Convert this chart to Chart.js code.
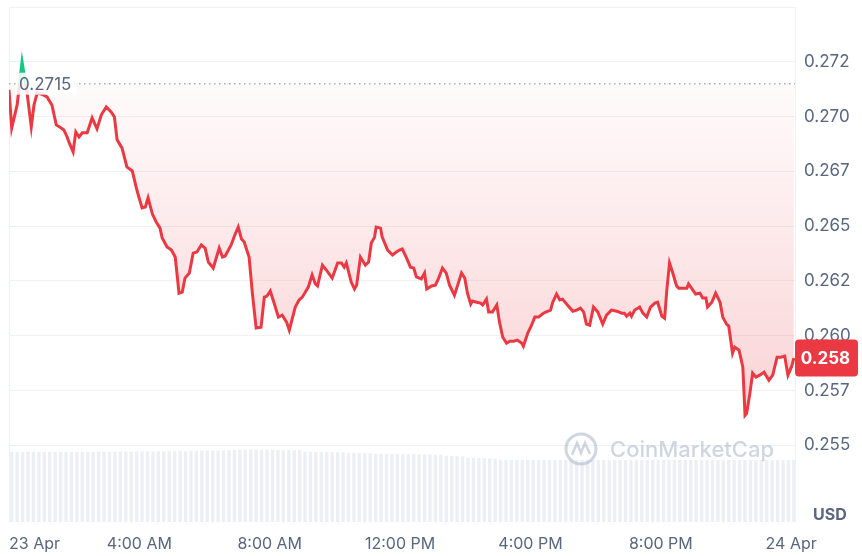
<!DOCTYPE html>
<html>
<head>
<meta charset="utf-8">
<script src="https://cdn.jsdelivr.net/npm/chart.js@4.4.1/dist/chart.umd.min.js"></script>
<style>
  html, body { margin: 0; padding: 0; background: #fff; }
  #wrap { width: 862px; height: 556px; position: relative; }
</style>
</head>
<body>
<div id="wrap"><canvas id="priceChart"></canvas></div>
<script>
// minutes since 00:00, 23 Apr
const priceMinutes = [0,5,15,24,33,41,46,52,63,70,79,87,96,101,107,111,118,123,129,135,144,153,162,170,179,188,194,199,208,217,227,234,238,245,251,256,264,271,278,282,291,299,306,313,319,324,332,339,346,354,361,367,376,387,393,398,409,415,422,428,433,442,448,455,464,470,475,481,488,496,503,511,516,527,534,540,551,558,564,568,577,584,595,605,612,617,621,630,636,640,647,656,662,667,673,676,684,687,697,706,713,719,724,732,739,745,750,759,765,769,778,785,791,798,805,811,820,826,833,839,844,850,853,861,868,872,879,883,890,898,903,909,916,922,929,936,944,947,955,962,968,975,982,988,997,1001,1008,1014,1019,1028,1038,1045,1052,1058,1063,1069,1076,1084,1093,1100,1109,1119,1128,1133,1137,1143,1146,1152,1161,1167,1174,1181,1189,1194,1202,1207,1211,1216,1222,1229,1233,1240,1248,1251,1259,1264,1272,1277,1283,1286,1294,1301,1309,1314,1321,1325,1332,1336,1344,1351,1355,1358,1364,1369,1375,1382,1390,1399,1406,1414,1421,1428,1434,1441,1445];
const prices = [0.27122,0.26948,0.27053,0.27250,0.27113,0.26953,0.27053,0.27108,0.27099,0.27090,0.27053,0.26962,0.26948,0.26939,0.26907,0.26880,0.26839,0.26930,0.26907,0.26926,0.26926,0.26994,0.26944,0.27008,0.27044,0.27021,0.26999,0.26894,0.26857,0.26770,0.26752,0.26679,0.26642,0.26583,0.26587,0.26629,0.26555,0.26519,0.26491,0.26446,0.26405,0.26391,0.26359,0.26194,0.26199,0.26263,0.26286,0.26377,0.26382,0.26414,0.26400,0.26336,0.26309,0.26400,0.26359,0.26364,0.26414,0.26455,0.26496,0.26441,0.26428,0.26359,0.26194,0.26035,0.26039,0.26176,0.26181,0.26204,0.26149,0.26085,0.26094,0.26062,0.26025,0.26131,0.26163,0.26176,0.26222,0.26277,0.26236,0.26227,0.26322,0.26300,0.26263,0.26332,0.26332,0.26313,0.26332,0.26245,0.26213,0.26231,0.26359,0.26322,0.26336,0.26423,0.26450,0.26496,0.26491,0.26450,0.26391,0.26368,0.26382,0.26391,0.26396,0.26354,0.26313,0.26309,0.26268,0.26259,0.26286,0.26213,0.26227,0.26231,0.26263,0.26309,0.26286,0.26231,0.26185,0.26231,0.26286,0.26263,0.26194,0.26144,0.26158,0.26153,0.26149,0.26140,0.26167,0.26108,0.26108,0.26140,0.26062,0.25993,0.25966,0.25975,0.25975,0.25980,0.25966,0.25952,0.26012,0.26048,0.26085,0.26085,0.26099,0.26108,0.26117,0.26153,0.26190,0.26163,0.26167,0.26140,0.26112,0.26117,0.26126,0.26108,0.26053,0.26048,0.26131,0.26108,0.26053,0.26094,0.26117,0.26112,0.26103,0.26103,0.26089,0.26103,0.26089,0.26117,0.26131,0.26103,0.26085,0.26131,0.26149,0.26153,0.26089,0.26080,0.26208,0.26332,0.26286,0.26227,0.26217,0.26217,0.26217,0.26236,0.26208,0.26190,0.26194,0.26172,0.26172,0.26131,0.26153,0.26194,0.26153,0.26085,0.26053,0.26044,0.25920,0.25948,0.25934,0.25856,0.25637,0.25646,0.25738,0.25829,0.25811,0.25820,0.25834,0.25797,0.25820,0.25902,0.25902,0.25907,0.25820,0.25861,0.25898];

// 24h volume, 10 minute buckets (millions)
const volumes = [
  70.0,70.2,70.1,70.3,70.2,70.0,70.1,70.2,70.3,70.2,70.1,70.0,70.2,70.3,70.1,70.2,70.4,70.3,70.2,70.3,
  70.5,70.4,70.3,70.5,70.6,70.5,70.4,70.6,70.7,
  71.0,71.1,71.2,71.0,71.3,71.2,71.4,71.3,71.5,71.4,71.6,
  72.0,72.1,72.3,72.2,72.4,72.3,72.2,72.4,72.3,72.1,72.2,72.0,71.9,71.8,
  70.4,70.3,70.2,70.1,70.0,69.9,69.8,69.7,
  69.2,69.1,69.0,68.9,68.8,
  68.3,68.2,68.1,68.0,68.1,67.9,67.8,67.9,67.7,67.6,67.5,67.4,67.3,
  66.2,66.0,65.8,65.6,
  64.4,64.2,64.0,63.8,63.5,63.2,
  62.2,62.1,62.0,62.1,61.9,62.0,62.1,62.0,61.9,61.8,
  62.0,62.1,62.0,61.9,62.0,62.1,62.2,62.1,62.0,61.9,
  61.8,61.9,62.0,62.0,61.9,62.0,62.1,62.0,62.1,62.2,
  62.1,62.0,62.1,62.2,62.1,62.0,61.9,62.0,62.1,62.0,
  61.9,61.8,61.9,62.0,62.1,62.0,61.9,62.0,62.1,62.2,
  62.1,62.0,61.9,62.0,62.1
];
const volumeBucket = 10;

const basePrice = 0.2715;
const xTickMinutes = [0, 240, 480, 720, 960, 1200, 1440];
const xTickLabels = ['23 Apr', '4:00 AM', '8:00 AM', '12:00 PM', '4:00 PM', '8:00 PM', '24 Apr'];
const yTicks = [0.255, 0.2575, 0.26, 0.2625, 0.265, 0.2675, 0.27, 0.2725, 0.275];
const yTickLabels = ['0.255', '0.257', '0.260', '0.262', '0.265', '0.267', '0.270', '0.272', ''];
const xMax = 1447;

const red = '#ea3943';
const green = '#16c784';
const gridColor = '#eff2f5';
const textColor = '#58667e';
const watermarkColor = 'rgba(168,180,201,0.55)';

Chart.defaults.font.family = 'Inter, "Noto Sans", sans-serif';

const n = Math.min(priceMinutes.length, prices.length);
const pricePoints = [];
for (let i = 0; i < n; i++) {
  pricePoints.push({ x: priceMinutes[i], y: prices[i] });
}
const volumePoints = volumes.map((v, i) => ({ x: i * volumeBucket + volumeBucket / 2, y: v }));
const lastPrice = prices[n - 1];

function basePixelFraction(chart) {
  const area = chart.chartArea;
  const y = chart.scales.y.getPixelForValue(basePrice);
  return Math.min(Math.max((y - area.top) / (area.bottom - area.top), 0), 1);
}

// green above the open price, red below it
function lineStroke(context) {
  const chart = context.chart;
  const area = chart.chartArea;
  if (!area) return red;
  const f = basePixelFraction(chart);
  const g = chart.ctx.createLinearGradient(0, area.top, 0, area.bottom);
  g.addColorStop(0, green);
  g.addColorStop(f, green);
  g.addColorStop(f, red);
  g.addColorStop(1, red);
  return g;
}

function areaFill(context) {
  const chart = context.chart;
  const area = chart.chartArea;
  if (!area) return 'rgba(234,57,67,0.1)';
  const yScale = chart.scales.y;
  const top = yScale.getPixelForValue(basePrice);
  const bottom = yScale.getPixelForValue(Math.min(...prices));
  const g = chart.ctx.createLinearGradient(0, top, 0, bottom);
  g.addColorStop(0, 'rgba(234,57,67,0.02)');
  g.addColorStop(1, 'rgba(234,57,67,0.22)');
  return g;
}

// base price tag, watermark, last price badge, currency
const overlayPlugin = {
  id: 'overlay',
  afterDatasetsDraw(chart) {
    const { ctx, chartArea, scales } = chart;
    const yBase = scales.y.getPixelForValue(basePrice);
    ctx.save();

    // watermark
    const cx = chartArea.right - 214;
    const cy = chartArea.bottom - 73;
    ctx.strokeStyle = watermarkColor;
    ctx.lineWidth = 3;
    ctx.beginPath();
    ctx.arc(cx, cy, 15, 0, Math.PI * 2);
    ctx.stroke();
    ctx.lineWidth = 2.5;
    ctx.beginPath();
    ctx.moveTo(cx - 9, cy + 6);
    ctx.lineTo(cx - 4, cy - 6);
    ctx.lineTo(cx, cy + 4);
    ctx.lineTo(cx + 4, cy - 6);
    ctx.lineTo(cx + 9, cy + 5);
    ctx.stroke();
    ctx.fillStyle = watermarkColor;
    ctx.font = '500 22px Inter';
    ctx.textBaseline = 'middle';
    ctx.textAlign = 'left';
    ctx.fillText('CoinMarketCap', cx + 29, cy + 1);

    // base price tag
    ctx.font = '17px Inter';
    const label = basePrice.toFixed(4);
    const w = ctx.measureText(label).width;
    ctx.fillStyle = 'rgba(255,255,255,0.85)';
    ctx.fillRect(chartArea.left + 7, yBase - 11, w + 8, 22);
    ctx.fillStyle = textColor;
    ctx.fillText(label, chartArea.left + 10, yBase + 1);
    ctx.restore();
  },
  afterDraw(chart) {
    const { ctx, chartArea, scales } = chart;
    const yLast = scales.y.getPixelForValue(lastPrice);
    ctx.save();
    const bx = chartArea.right;
    const bw = 63;
    const bh = 37;
    ctx.fillStyle = red;
    ctx.beginPath();
    ctx.roundRect(bx, yLast - bh / 2, bw, bh, 4);
    ctx.fill();
    ctx.fillStyle = '#fff';
    ctx.font = 'bold 17px Inter';
    ctx.textAlign = 'center';
    ctx.textBaseline = 'middle';
    ctx.fillText((Math.floor(lastPrice * 1000) / 1000).toFixed(3), bx + bw / 2 - 1, yLast + 1);

    ctx.fillStyle = textColor;
    ctx.font = 'bold 16px Inter';
    ctx.textAlign = 'left';
    ctx.fillText('USD', chartArea.right + 18, chartArea.bottom - 7);
    ctx.restore();
  }
};

new Chart(document.getElementById('priceChart'), {
  type: 'line',
  data: {
    datasets: [
      {
        label: 'Price',
        data: pricePoints,
        borderColor: lineStroke,
        backgroundColor: areaFill,
        borderWidth: 3,
        pointRadius: 0,
        tension: 0,
        fill: { target: { value: basePrice }, above: 'rgba(22,199,132,0.14)' },
        order: 1
      },
      {
        label: 'Open',
        data: [{ x: 0, y: basePrice }, { x: xMax, y: basePrice }],
        borderColor: '#a6b0c3',
        borderWidth: 1.5,
        borderDash: [1.5, 3.5],
        pointRadius: 0,
        fill: false,
        order: 2
      },
      {
        type: 'bar',
        label: 'Volume',
        data: volumePoints,
        yAxisID: 'yVol',
        backgroundColor: 'rgba(207,214,228,0.38)',
        borderWidth: 0,
        barPercentage: 0.9,
        categoryPercentage: 1,
        order: 3
      }
    ]
  },
  options: {
    responsive: true,
    maintainAspectRatio: false,
    animation: false,
    layout: { padding: { left: 9, top: 7, right: 0, bottom: 0 } },
    plugins: {
      legend: { display: false },
      tooltip: { enabled: false }
    },
    scales: {
      x: {
        type: 'linear',
        min: 0,
        max: xMax,
        offset: false,
        afterBuildTicks: axis => {
          axis.ticks = xTickMinutes.concat([xMax]).map(v => ({ value: v }));
        },
        afterFit: axis => {
          axis.height = 34;
          axis.paddingLeft = 0;
          axis.paddingRight = 0;
        },
        ticks: {
          align: 'inner',
          autoSkip: false,
          maxRotation: 0,
          padding: 13,
          color: textColor,
          font: { size: 16 },
          callback: (v, i) => (i < xTickLabels.length ? xTickLabels[i] : '')
        },
        grid: {
          offset: false,
          drawTicks: false,
          color: ctx => (ctx.index === 0 || ctx.tick && ctx.tick.value === xMax) ? gridColor : 'rgba(0,0,0,0)'
        },
        border: { display: false }
      },
      y: {
        type: 'linear',
        position: 'right',
        min: 0.2515,
        max: 0.275,
        afterBuildTicks: axis => {
          axis.ticks = yTicks.map(v => ({ value: v }));
        },
        afterFit: axis => {
          axis.width = 67;
          axis.paddingTop = 0;
          axis.paddingBottom = 0;
        },
        ticks: {
          padding: 9,
          color: textColor,
          font: { size: 17 },
          callback: (v, i) => yTickLabels[i]
        },
        grid: { color: gridColor, drawTicks: false },
        border: { display: false }
      },
      yVol: {
        type: 'linear',
        display: false,
        min: 0,
        max: 515
      }
    }
  },
  plugins: [overlayPlugin]
});
</script>
</body>
</html>
